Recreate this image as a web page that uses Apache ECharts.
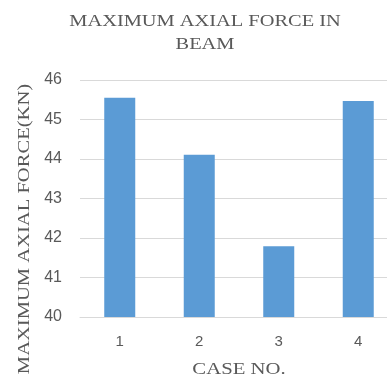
<!DOCTYPE html>
<html>
<head>
<meta charset="utf-8">
<script src="https://cdn.jsdelivr.net/npm/echarts@6/dist/echarts.min.js"></script>
<style>
  html, body { margin: 0; padding: 0; background: #fff; }
  #chart { width: 387px; height: 382px; }
</style>
</head>
<body>
<div id="chart"></div>
<script>
var categories = ['1', '2', '3', '4'];
var axialForce = [45.55, 44.11, 41.79, 45.47];
var yTicks = { min: 40, max: 46, interval: 1 };

var titleText = 'MAXIMUM AXIAL FORCE IN\nBEAM';
var yName = 'MAXIMUM AXIAL FORCE(KN)';
var xName = 'CASE NO.';

// the serif text in the picture is wider than Times, so stretch it a bit
var serif = { fontFamily: 'Liberation Serif', fontSize: 17, fill: '#595959' };

var chart = echarts.init(document.getElementById('chart'));
var option = {
    animation: false,
    graphic: [
        {
            type: 'text', x: 205, y: 10, scaleX: 1.2,
            style: Object.assign({ text: titleText, align: 'center', verticalAlign: 'top', lineHeight: 23 }, serif)
        },
        {
            type: 'text', x: 25, y: 229, rotation: Math.PI / 2, scaleX: 1.21,
            style: Object.assign({ text: yName, align: 'center', verticalAlign: 'middle' }, serif)
        },
        {
            type: 'text', x: 239, y: 370, scaleX: 1.22,
            style: Object.assign({ text: xName, align: 'center', verticalAlign: 'middle' }, serif)
        }
    ],
    grid: { left: 80, top: 80, width: 318, height: 237, outerBoundsMode: 'none', containLabel: false },
    xAxis: {
        type: 'category',
        data: categories,
        axisLine: { lineStyle: { color: '#d9d9d9', width: 1 } },
        axisTick: { show: false },
        axisLabel: {
            margin: 17,
            fontFamily: 'Liberation Sans',
            fontSize: 15,
            color: '#595959'
        }
    },
    yAxis: {
        type: 'value',
        min: yTicks.min,
        max: yTicks.max,
        interval: yTicks.interval,
        axisLine: { show: false },
        axisTick: { show: false },
        axisLabel: {
            margin: 18,
            fontFamily: 'Liberation Sans',
            fontSize: 16,
            color: '#595959'
        },
        splitLine: { lineStyle: { color: '#d9d9d9', width: 1 } }
    },
    series: [{
        type: 'bar',
        data: axialForce,
        barWidth: '39%',
        itemStyle: { color: '#5b9bd5' }
    }]
};
chart.setOption(option);
</script>
</body>
</html>
